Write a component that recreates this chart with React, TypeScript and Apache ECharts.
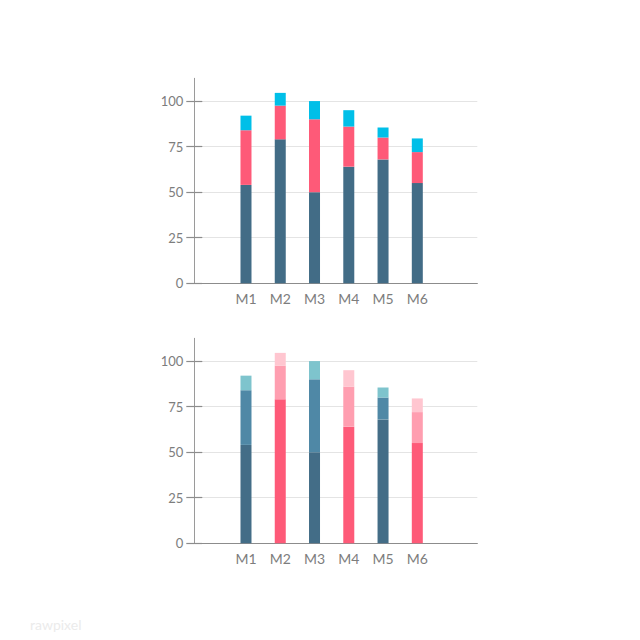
import React, { useEffect, useRef } from "react";
import * as echarts from "echarts";

const categories = ["M1", "M2", "M3", "M4", "M5", "M6"];
const baseValues = [54, 79, 50, 64, 68, 55];
const middleValues = [30, 18.5, 40, 22, 12, 17];
const topValues = [8, 7, 10, 9, 5.5, 7.5];
const yTickValues = [0, 25, 50, 75, 100];

const topColors = ["#426c86", "#fe5a78", "#00bfe8"];
const blueShades = ["#436d87", "#4f88a6", "#7ec4cd"];
const pinkShades = ["#fe5a78", "#ff9eb0", "#ffc6d0"];

const seriesValues = [baseValues, middleValues, topValues];

// one empty slot on each side of the months
const axisCategories = ["", ...categories, ""];
const pad = (vals: any[]) => [null, ...vals, null];

export default function App() {
  const ref = useRef<HTMLDivElement>(null);
  useEffect(() => {
    if (!ref.current) return;
    const chart = echarts.init(ref.current, null, { renderer: "svg" });
    const font = "Lato, 'Noto Sans', sans-serif";
    const panels = [
      { top: 78.3, bottom: 356.7 },
      { top: 338.3, bottom: 96.7 },
    ];
    const grids: any[] = [];
    const xAxes: any[] = [];
    const yAxes: any[] = [];
    panels.forEach((p) => {
      const decor = grids.length;
      grids.push({ left: 194.3, right: 162.7, top: p.top, bottom: p.bottom });
      const data = grids.length;
      grids.push({ left: 194.6, right: 171.3, top: p.top, bottom: p.bottom });

      xAxes.push({
        type: "value",
        gridIndex: decor,
        min: 0,
        max: 1,
        axisLine: { show: true, lineStyle: { color: "#8c8c8c", width: 1.2 } },
        axisTick: { show: false },
        splitLine: { show: false },
        axisLabel: { show: false },
      });
      xAxes.push({
        type: "category",
        gridIndex: data,
        data: axisCategories,
        axisLine: { show: false },
        axisTick: { show: false },
        splitLine: { show: false },
        axisLabel: {
          color: "#7d7d7d",
          fontSize: 14,
          fontFamily: font,
          margin: 8,
        },
      });
      yAxes.push({
        type: "value",
        gridIndex: decor,
        min: 0,
        max: 112.5,
        interval: 12.5,
        axisLine: { show: true, lineStyle: { color: "#9a9a9a", width: 1 } },
        axisTick: {
          show: true,
          customValues: yTickValues,
          length: 8,
          lineStyle: { color: "#8c8c8c", width: 1.2 },
        },
        splitLine: { show: true, lineStyle: { color: "#e4e4e4", width: 1 } },
        axisLabel: {
          customValues: yTickValues,
          color: "#7d7d7d",
          fontSize: 13,
          fontFamily: font,
          margin: 11,
        },
      });
      yAxes.push({
        type: "value",
        gridIndex: decor,
        position: "left",
        min: 0,
        max: 112.5,
        interval: 12.5,
        axisLine: { show: false },
        axisTick: {
          show: true,
          inside: true,
          customValues: yTickValues,
          length: 8,
          lineStyle: { color: "#8c8c8c", width: 1.2 },
        },
        splitLine: { show: false },
        axisLabel: { show: false },
      });
      yAxes.push({
        type: "value",
        gridIndex: data,
        min: 0,
        max: 112.5,
        interval: 12.5,
        axisLine: { show: false },
        axisTick: { show: false },
        splitLine: { show: false },
        axisLabel: { show: false },
      });
    });

    const series: any[] = [];
    seriesValues.forEach((vals, s) => {
      series.push({
        type: "bar",
        xAxisIndex: 1,
        yAxisIndex: 2,
        stack: "top",
        barWidth: 11,
        itemStyle: { color: topColors[s] },
        data: pad(vals),
      });
    });
    seriesValues.forEach((vals, s) => {
      series.push({
        type: "bar",
        xAxisIndex: 3,
        yAxisIndex: 5,
        stack: "bottom",
        barWidth: 11,
        data: pad(
          vals.map((v, i) => ({
            value: v,
            itemStyle: { color: i % 2 === 0 ? blueShades[s] : pinkShades[s] },
          }))
        ),
      });
    });

    chart.setOption({
      animation: false,
      backgroundColor: "#ffffff",
      grid: grids,
      xAxis: xAxes,
      yAxis: yAxes,
      series,
      graphic: [
        {
          type: "text",
          left: 30,
          top: 617,
          style: {
            text: "rawpixel",
            fill: "#ebebeb",
            fontSize: 14,
            fontFamily: font,
          },
        },
      ],
    });
    return () => chart.dispose();
  }, []);
  return (
    <div
      ref={ref}
      style={{ position: "fixed", left: 0, top: 0, width: 640, height: 640 }}
    />
  );
}
